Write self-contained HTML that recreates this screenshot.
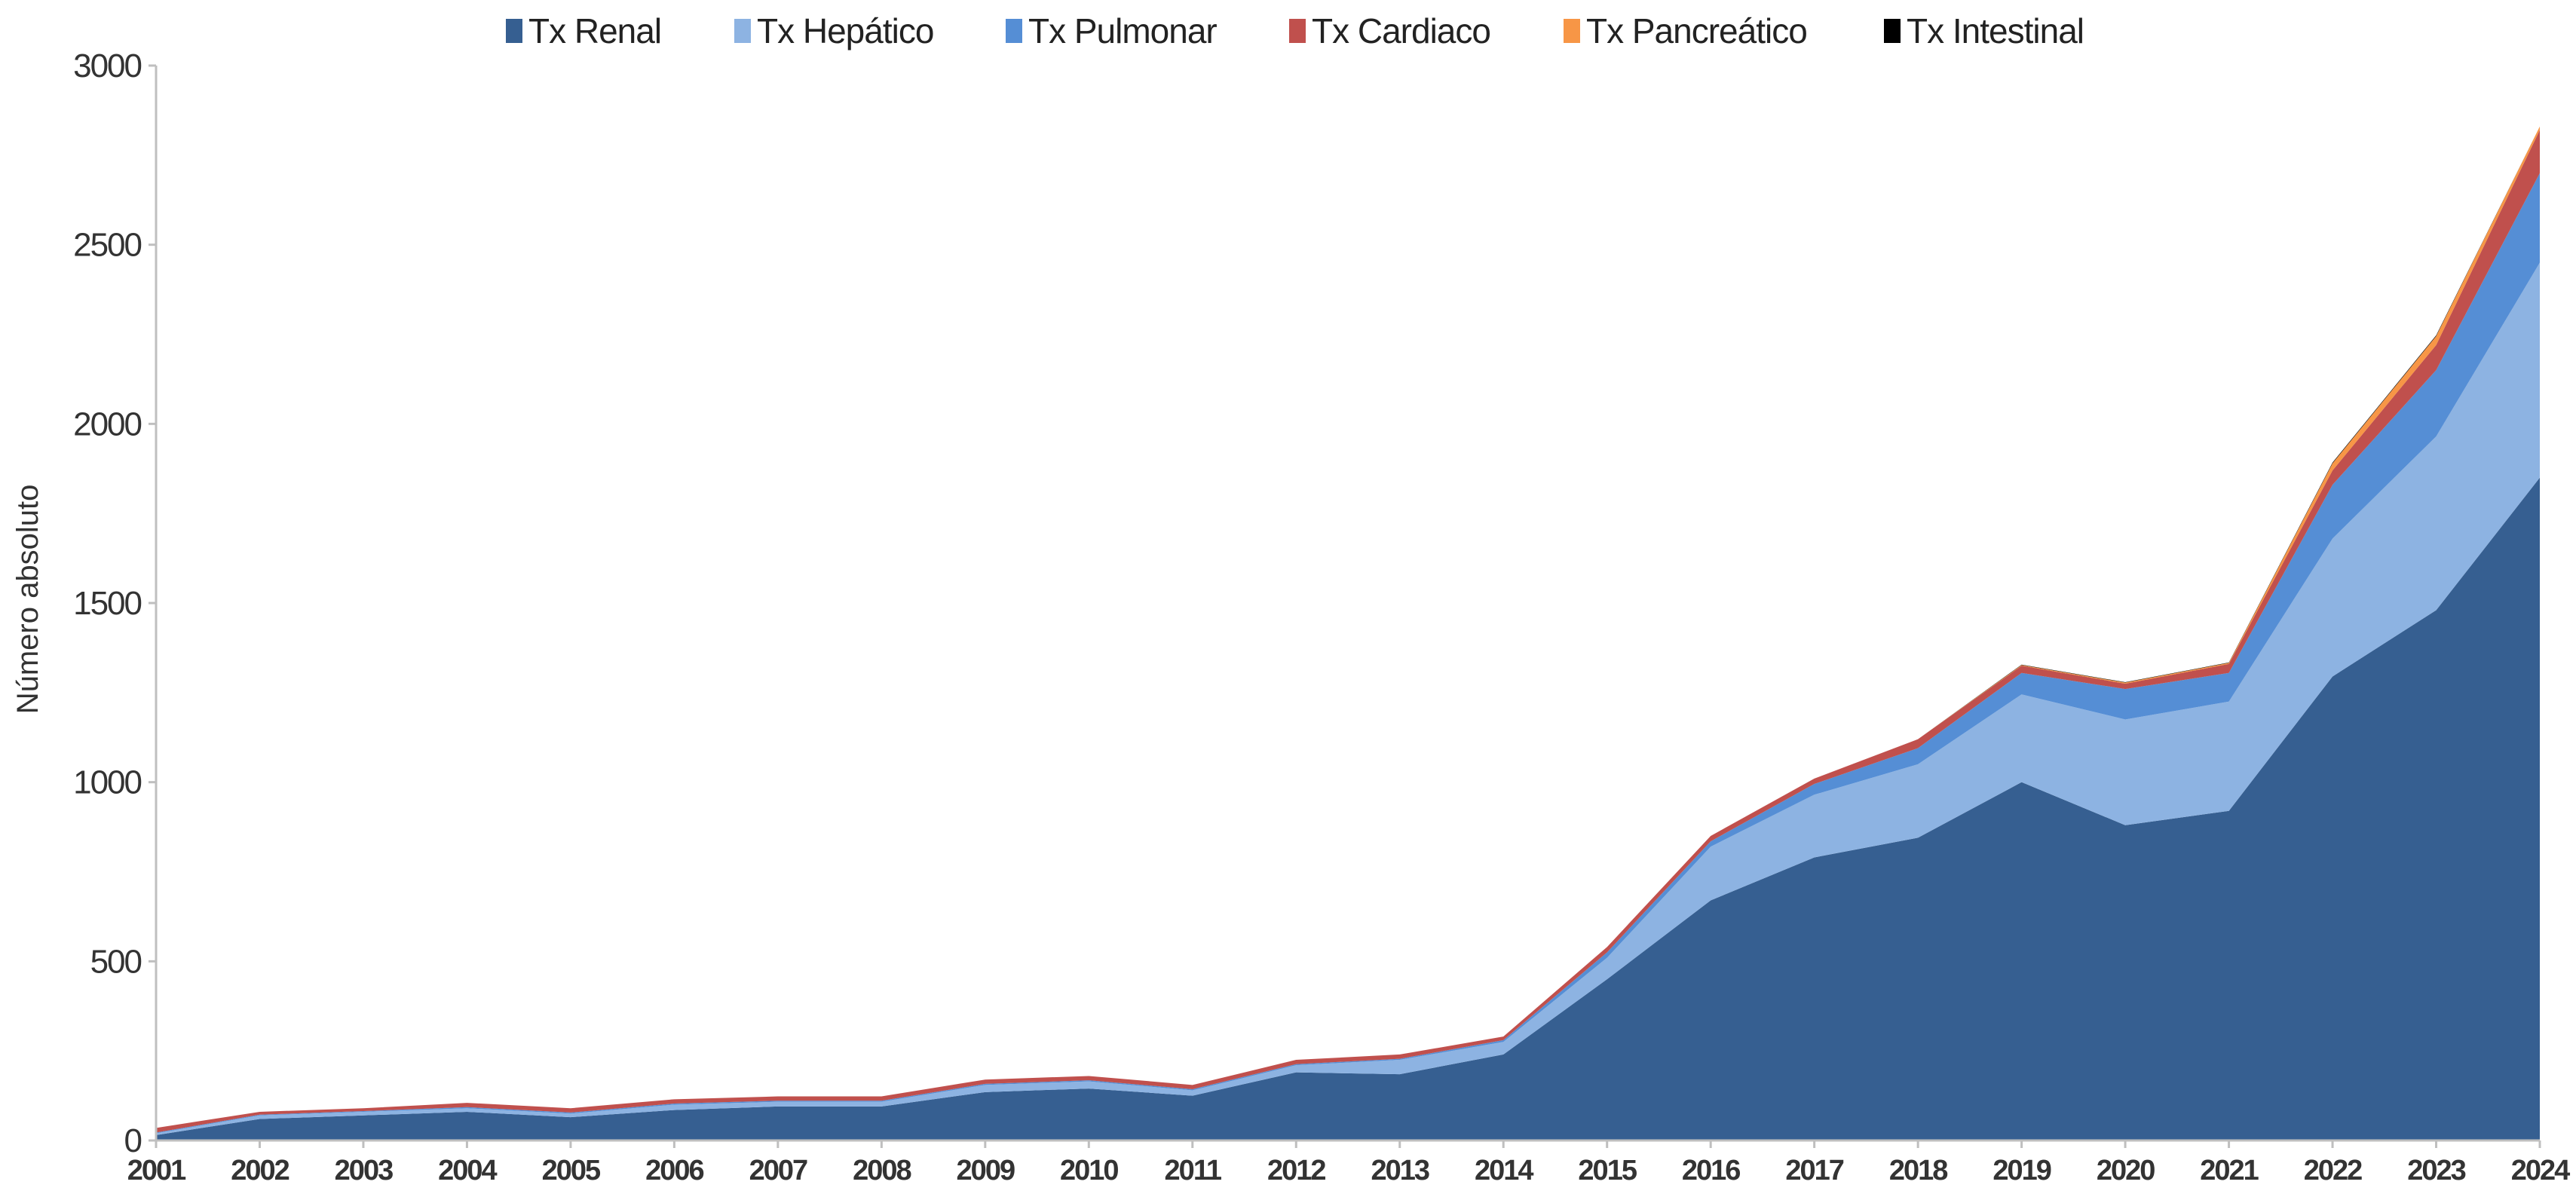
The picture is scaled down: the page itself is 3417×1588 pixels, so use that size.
<!DOCTYPE html>
<html><head><meta charset="utf-8"><style>
html,body{margin:0;padding:0;background:#fff;width:3417px;height:1588px;overflow:hidden}
svg{display:block;font-family:"Liberation Sans",Arial,sans-serif}
</style></head><body>
<svg id="chart" width="3417" height="1588" viewBox="0 0 3417 1588" xmlns="http://www.w3.org/2000/svg">
<g id="legend"></g>
<g id="areas"></g>
<g id="axes"></g>
<text x="0" y="0" transform="translate(50,795) rotate(-90)" text-anchor="middle" font-size="40" fill="#333">Número absoluto</text>
</svg>
<script>
const years = [2001,2002,2003,2004,2005,2006,2007,2008,2009,2010,2011,2012,2013,2014,2015,2016,2017,2018,2019,2020,2021,2022,2023,2024];
const renal = [15,60,70,80,65,85,95,95,135,145,125,190,185,240,450,670,790,845,1000,880,920,1295,1480,1850];
const hepatico = [5,10,10,10,10,15,13,13,20,20,15,20,40,35,60,150,175,205,245,295,305,385,485,600];
const pulmonar = [2,2,2,3,3,3,3,3,3,3,3,3,3,5,15,15,30,45,60,85,80,150,185,250];
const cardiaco = [13,8,8,12,12,12,12,12,12,12,12,12,12,10,15,15,15,25,20,15,25,40,70,120];
const pancreatico = [0,0,0,0,0,0,0,0,0,0,0,0,0,0,0,0,0,0,2,3,3,20,25,10];
const intestinal = [0,0,0,0,0,0,0,0,0,0,0,0,0,0,0,0,0,0,1,1,1,2,2,0];
const yTicks = [0,500,1000,1500,2000,2500,3000];
const seriesNames = ["Tx Renal","Tx Hepático","Tx Pulmonar","Tx Cardiaco","Tx Pancreático","Tx Intestinal"];

const NS="http://www.w3.org/2000/svg";
const X0=207,X1=3369,Y0=1513,Y1=87,YMAX=3000;
function xs(i){return X0+(X1-X0)*i/(years.length-1);}
function ys(v){return Y0-(Y0-Y1)*v/YMAX;}
function mk(tag,attrs,parent){const e=document.createElementNS(NS,tag);for(const k in attrs)e.setAttribute(k,attrs[k]);parent.appendChild(e);return e;}

const series=[renal,hepatico,pulmonar,cardiaco,pancreatico,intestinal];
const colors=["#365F91","#8DB3E2","#558ED5","#C0504D","#F79646","#000000"];
const keys=["renal","hepatico","pulmonar","cardiaco","pancreatico","intestinal"];
const areas=document.getElementById('areas');
let base=years.map(()=>0);
series.forEach((s,k)=>{
  const top=base.map((b,i)=>b+s[i]);
  let d="M"+years.map((y,i)=>xs(i)+","+ys(top[i])).join(" L");
  for(let i=years.length-1;i>=0;i--) d+=" L"+xs(i)+","+ys(base[i]);
  d+=" Z";
  const p=mk('path',{d:d,fill:colors[k]},areas);
  
  
  base=top;
});

const axes=document.getElementById('axes');
const yl=mk('line',{x1:X0,y1:Y1,x2:X0,y2:Y0,stroke:"#bfbfbf","stroke-width":3},axes);


const xl=mk('line',{x1:X0-10,y1:Y0,x2:X1,y2:Y0,stroke:"#bfbfbf","stroke-width":3},axes);


yTicks.forEach(v=>{
  mk('line',{x1:X0-10,y1:ys(v),x2:X0,y2:ys(v),stroke:"#bfbfbf","stroke-width":3},axes);
  const t=mk('text',{x:X0-20,y:ys(v)+15,"text-anchor":"end","font-size":44,fill:"#333","letter-spacing":"-2"},axes);
  t.textContent=v;
  
  
});
years.forEach((y,i)=>{
  mk('line',{x1:xs(i),y1:Y0,x2:xs(i),y2:Y0+10,stroke:"#bfbfbf","stroke-width":3},axes);
  const t=mk('text',{x:xs(i),y:Y0+52,"text-anchor":"middle","font-size":38,"font-weight":"bold",fill:"#333","letter-spacing":"-2"},axes);
  t.textContent=y;
  
  
});

const legend=document.getElementById('legend');
const lx=[671,974,1334,1710,2074,2499];
seriesNames.forEach((n,k)=>{
  const g=mk('g',{},legend);
  
  
  mk('rect',{x:lx[k],y:25,width:22,height:32,fill:colors[k]},g);
  const t=mk('text',{x:lx[k]+30,y:57,"font-size":46,fill:"#222","letter-spacing":"-1"},g);
  t.textContent=n;
});
</script>
</body></html>
